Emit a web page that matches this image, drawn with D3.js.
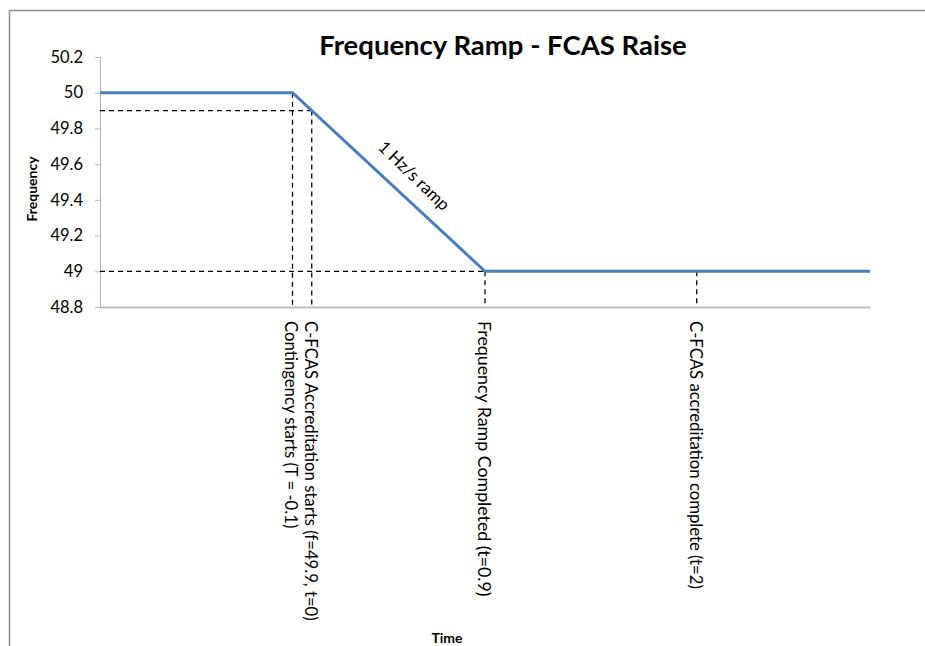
<!DOCTYPE html>
<html>
<head>
<meta charset="utf-8">
<script src="https://cdn.jsdelivr.net/npm/d3@7"></script>
<style>
  body { margin: 0; background: #fff; }
  text { font-family: Lato, "Liberation Sans", Arial, sans-serif; fill: #000; }
</style>
</head>
<body>
<div id="chart"></div>
<script>
// Series: frequency vs time (s)
const times = [-1.1, -0.1, 0.9, 2.9];
const freqs = [50, 50, 49, 49];

// Y axis ticks
const yTicks = [48.8, 49, 49.2, 49.4, 49.6, 49.8, 50, 50.2];

// Event markers (vertical dashed lines + rotated labels)
const eventTimes = [-0.1, 0, 0.9, 2];
const eventFreqs = [50, 49.9, 49, 49];
const eventLabels = [
  "Contingency starts (T = -0.1)",
  "C-FCAS Accreditation starts (f=49.9, t=0)",
  "Frequency Ramp Completed (t=0.9)",
  "C-FCAS accreditation complete (t=2)"
];

// Horizontal dashed reference lines
const refFreqs = [49.9, 49];
const refEndTimes = [0, 0.9];

const width = 925;
const height = 646;
const margin = { top: 57, right: 55, bottom: 339, left: 100 };

const svg = d3
  .select("#chart")
  .append("svg")
  .attr("width", width)
  .attr("height", height);

// Chart area border (runs off the right and bottom edges)
svg
  .append("rect")
  .attr("x", 9.5)
  .attr("y", 10.5)
  .attr("width", 1000)
  .attr("height", 1000)
  .attr("fill", "none")
  .attr("stroke", "#8c8c8c")
  .attr("stroke-width", 1.5);

const xScale = d3
  .scaleLinear()
  .domain([-1.1, 2.9])
  .range([margin.left, width - margin.right]);

const yScale = d3
  .scaleLinear()
  .domain([48.8, 50.2])
  .range([height - margin.bottom, margin.top]);

// Y axis
const yAxis = d3
  .axisLeft(yScale)
  .tickValues(yTicks)
  .tickSize(5)
  .tickPadding(12)
  .tickFormat(d3.format("~g"));

const yG = svg
  .append("g")
  .attr("transform", `translate(${margin.left},0)`)
  .call(yAxis);
yG.selectAll("path, line").attr("stroke", "#b3b3b3");
yG.selectAll("text")
  .style("font-family", "Lato, Liberation Sans, Arial, sans-serif")
  .style("font-size", "16.5px")
  .attr("fill", "#222");

// X axis (no labels)
const xAxis = d3.axisBottom(xScale).tickValues([]).tickSizeOuter(0);
const xG = svg
  .append("g")
  .attr("transform", `translate(0,${yScale(48.8)})`)
  .call(xAxis);
xG.select("path").attr("stroke", "#bfbfbf").attr("stroke-width", 2);

// Dashed guides
const dash = "5,4";
svg
  .selectAll(".vguide")
  .data(eventTimes)
  .enter()
  .append("line")
  .attr("class", "vguide")
  .attr("x1", (d) => xScale(d))
  .attr("x2", (d) => xScale(d))
  .attr("y1", (d, i) => yScale(eventFreqs[i]))
  .attr("y2", yScale(48.8))
  .attr("stroke", "#000")
  .attr("stroke-width", 1.3)
  .attr("stroke-dasharray", dash);

svg
  .selectAll(".hguide")
  .data(refFreqs)
  .enter()
  .append("line")
  .attr("class", "hguide")
  .attr("x1", xScale(-1.1))
  .attr("x2", (d, i) => xScale(refEndTimes[i]))
  .attr("y1", (d) => yScale(d))
  .attr("y2", (d) => yScale(d))
  .attr("stroke", "#000")
  .attr("stroke-width", 1.3)
  .attr("stroke-dasharray", dash);

// Frequency line
const line = d3
  .line()
  .x((d, i) => xScale(times[i]))
  .y((d) => yScale(d));

svg
  .append("path")
  .datum(freqs)
  .attr("d", line)
  .attr("fill", "none")
  .attr("stroke", "#4a7ebb")
  .attr("stroke-width", 3);

// Ramp annotation, sits just above the ramp
const rx = xScale(0.5) + 5;
const ry = yScale(49.4) - 23;
svg
  .append("text")
  .attr("transform", `translate(${rx},${ry}) rotate(44)`)
  .attr("text-anchor", "middle")
  .attr("dominant-baseline", "middle")
  .style("font-size", "17px")
  .text("1 Hz/s ramp");

// Event labels, rotated (the ramp-complete one is set a bit larger)
svg
  .selectAll(".evlabel")
  .data(eventLabels)
  .enter()
  .append("text")
  .attr("class", "evlabel")
  .attr("transform", (d, i) => `translate(${xScale(eventTimes[i]) - 3},321) rotate(90)`)
  .attr("dominant-baseline", "middle")
  .style("font-size", (d, i) => (i === 2 ? "17.8px" : "16.7px"))
  .text((d) => d);

// Title
svg
  .append("text")
  .attr("x", 503)
  .attr("y", 55)
  .attr("text-anchor", "middle")
  .style("font-size", "27.5px")
  .style("font-weight", "bold")
  .text("Frequency Ramp - FCAS Raise");

// Axis titles
svg
  .append("text")
  .attr("transform", "translate(33,189) rotate(-90)")
  .attr("text-anchor", "middle")
  .attr("dominant-baseline", "middle")
  .style("font-size", "14px")
  .style("font-weight", "bold")
  .text("Frequency");

svg
  .append("text")
  .attr("x", 447)
  .attr("y", 643)
  .attr("text-anchor", "middle")
  .style("font-size", "14px")
  .style("font-weight", "bold")
  .text("Time");
</script>
</body>
</html>
